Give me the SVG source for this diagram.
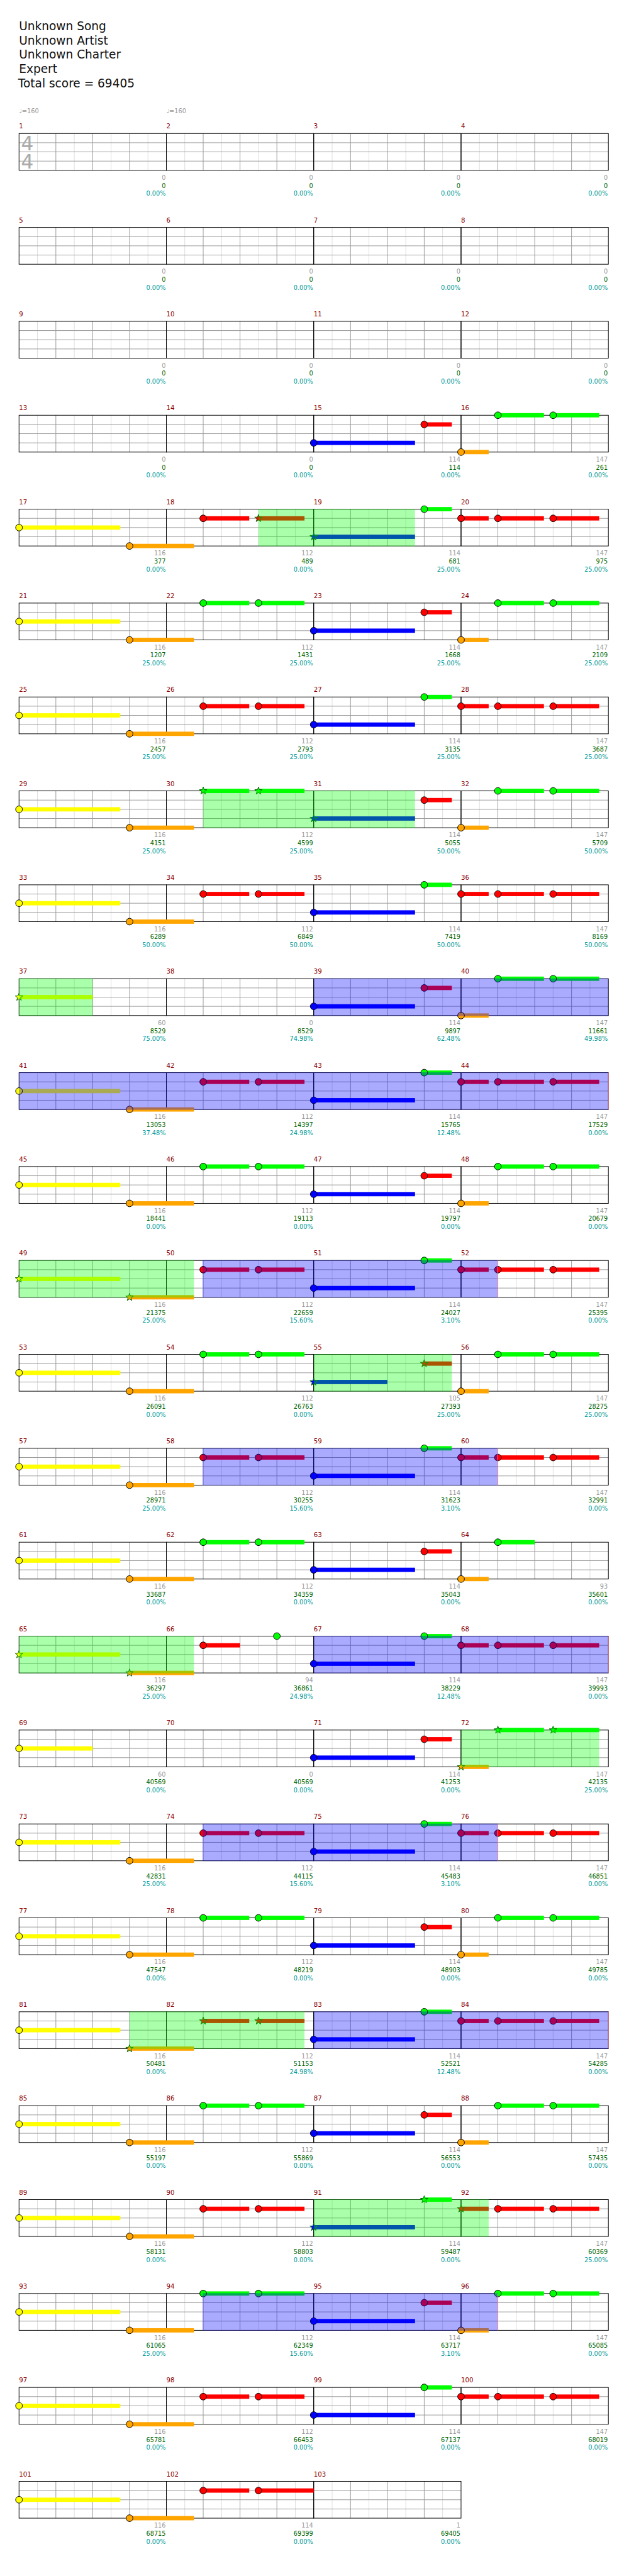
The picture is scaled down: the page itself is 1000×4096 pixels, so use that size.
<svg xmlns="http://www.w3.org/2000/svg" width="1000" height="4096" viewBox="0 0 1000 4096">
<style>
.g{fill:#0f0}.r{fill:#f00}.y{fill:#ff0}.b{fill:#00f}.o{fill:#ffa500}
.sp{fill:#0f0;fill-opacity:.333}.bo{fill:#00f;fill-opacity:.333}
.end{stroke:#f88;stroke-width:1}
.h{font-family:"DejaVu Sans",sans-serif;font-size:19px;fill:#111}
.mn{font-family:"DejaVu Sans",sans-serif;font-size:10.5px;fill:#8b0000}
.s1,.s2,.s3{font-family:"DejaVu Sans",sans-serif;font-size:10px;text-anchor:end}
.s1{fill:#999}.s2{fill:#006400}.s3{fill:#099}
.tp{font-family:"DejaVu Sans",sans-serif;font-size:10px;fill:#999}
.ts{font-family:"DejaVu Sans",sans-serif;font-size:32px;fill:#aaa;text-anchor:middle}
</style>
<defs>
<g id="ms">
<path d="M30 0V60M90 0V60M150 0V60M210 0V60" stroke="#ddd" fill="none"/>
<path d="M60 0V60M120 0V60M180 0V60M0 15H240M0 30H240M0 45H240" stroke="#999" fill="none"/>
<rect width="240" height="60" fill="none" stroke="#000"/>
</g>
<g id="st4"><use href="#ms" x="31"/><use href="#ms" x="271"/><use href="#ms" x="511"/><use href="#ms" x="751"/></g>
<circle id="c" r="5.5" stroke="#000"/>
<path id="s" d="M0-6.5L1.53-2.1L6.18-2.01L2.47 .8L3.82 5.26L0 2.6L-3.82 5.26L-2.47 .8L-6.18-2.01L-1.53-2.1Z" stroke="#060"/>
<g id="bG">
<rect class="y" x="31" y="26.5" width="165" height="7"/>
<rect class="o" x="211" y="56.5" width="105" height="7"/>
<rect class="g" x="331" y="-3.5" width="75" height="7"/>
<rect class="g" x="421" y="-3.5" width="75" height="7"/>
<rect class="b" x="511" y="41.5" width="165" height="7"/>
<rect class="r" x="691" y="11.5" width="45" height="7"/>
<rect class="o" x="751" y="56.5" width="45" height="7"/>
<rect class="g" x="811" y="-3.5" width="75" height="7"/>
<rect class="g" x="901" y="-3.5" width="75" height="7"/>
</g>
<g id="hG">
<use href="#c" class="y" x="31" y="30"/>
<use href="#c" class="o" x="211" y="60"/>
<use href="#c" class="g" x="331" y="0"/>
<use href="#c" class="g" x="421" y="0"/>
<use href="#c" class="b" x="511" y="45"/>
<use href="#c" class="r" x="691" y="15"/>
<use href="#c" class="o" x="751" y="60"/>
<use href="#c" class="g" x="811" y="0"/>
<use href="#c" class="g" x="901" y="0"/>
</g>
<g id="bR">
<rect class="y" x="31" y="26.5" width="165" height="7"/>
<rect class="o" x="211" y="56.5" width="105" height="7"/>
<rect class="r" x="331" y="11.5" width="75" height="7"/>
<rect class="r" x="421" y="11.5" width="75" height="7"/>
<rect class="b" x="511" y="41.5" width="165" height="7"/>
<rect class="g" x="691" y="-3.5" width="45" height="7"/>
<rect class="r" x="751" y="11.5" width="45" height="7"/>
<rect class="r" x="811" y="11.5" width="75" height="7"/>
<rect class="r" x="901" y="11.5" width="75" height="7"/>
</g>
<g id="hR">
<use href="#c" class="y" x="31" y="30"/>
<use href="#c" class="o" x="211" y="60"/>
<use href="#c" class="r" x="331" y="15"/>
<use href="#c" class="r" x="421" y="15"/>
<use href="#c" class="b" x="511" y="45"/>
<use href="#c" class="g" x="691" y="0"/>
<use href="#c" class="r" x="751" y="15"/>
<use href="#c" class="r" x="811" y="15"/>
<use href="#c" class="r" x="901" y="15"/>
</g>
</defs>
<rect width="1000" height="4096" fill="#fff"/>
<g transform="scale(0.976)">
<g id="header">
<text class="h" x="31" y="49.3">Unknown Song</text>
<text class="h" x="31" y="72.5">Unknown Artist</text>
<text class="h" x="31" y="95.7">Unknown Charter</text>
<text class="h" x="31" y="118.9">Expert</text>
<text class="h" x="29.5" y="142">Total score = 69405</text>
</g>

<g id="row1" transform="translate(0 217.5)">
<use href="#st4"/>
<text class="tp" x="31" y="-33">♩=160</text><text class="tp" x="271" y="-33">♩=160</text>
<text class="ts" x="44.5" y="27">4</text><text class="ts" x="44.5" y="57.5">4</text>
<text class="mn" x="31" y="-8">1</text><text class="mn" x="271" y="-8">2</text><text class="mn" x="511" y="-8">3</text><text class="mn" x="751" y="-8">4</text>
<text class="s1" x="270" y="75.5">0</text><text class="s2" x="270" y="88.5">0</text><text class="s3" x="270" y="101.5">0.00%</text>
<text class="s1" x="510" y="75.5">0</text><text class="s2" x="510" y="88.5">0</text><text class="s3" x="510" y="101.5">0.00%</text>
<text class="s1" x="750" y="75.5">0</text><text class="s2" x="750" y="88.5">0</text><text class="s3" x="750" y="101.5">0.00%</text>
<text class="s1" x="990" y="75.5">0</text><text class="s2" x="990" y="88.5">0</text><text class="s3" x="990" y="101.5">0.00%</text>
</g>

<g id="row2" transform="translate(0 370.5)">
<use href="#st4"/>
<text class="mn" x="31" y="-8">5</text><text class="mn" x="271" y="-8">6</text><text class="mn" x="511" y="-8">7</text><text class="mn" x="751" y="-8">8</text>
<text class="s1" x="270" y="75.5">0</text><text class="s2" x="270" y="88.5">0</text><text class="s3" x="270" y="101.5">0.00%</text>
<text class="s1" x="510" y="75.5">0</text><text class="s2" x="510" y="88.5">0</text><text class="s3" x="510" y="101.5">0.00%</text>
<text class="s1" x="750" y="75.5">0</text><text class="s2" x="750" y="88.5">0</text><text class="s3" x="750" y="101.5">0.00%</text>
<text class="s1" x="990" y="75.5">0</text><text class="s2" x="990" y="88.5">0</text><text class="s3" x="990" y="101.5">0.00%</text>
</g>

<g id="row3" transform="translate(0 523.5)">
<use href="#st4"/>
<text class="mn" x="31" y="-8">9</text><text class="mn" x="271" y="-8">10</text><text class="mn" x="511" y="-8">11</text><text class="mn" x="751" y="-8">12</text>
<text class="s1" x="270" y="75.5">0</text><text class="s2" x="270" y="88.5">0</text><text class="s3" x="270" y="101.5">0.00%</text>
<text class="s1" x="510" y="75.5">0</text><text class="s2" x="510" y="88.5">0</text><text class="s3" x="510" y="101.5">0.00%</text>
<text class="s1" x="750" y="75.5">0</text><text class="s2" x="750" y="88.5">0</text><text class="s3" x="750" y="101.5">0.00%</text>
<text class="s1" x="990" y="75.5">0</text><text class="s2" x="990" y="88.5">0</text><text class="s3" x="990" y="101.5">0.00%</text>
</g>

<g id="row4" transform="translate(0 676.5)">
<use href="#st4"/>
<rect class="b" x="511" y="41.5" width="165" height="7"/>
<rect class="r" x="691" y="11.5" width="45" height="7"/>
<rect class="o" x="751" y="56.5" width="45" height="7"/>
<rect class="g" x="811" y="-3.5" width="75" height="7"/>
<rect class="g" x="901" y="-3.5" width="75" height="7"/>
<use href="#c" class="b" x="511" y="45"/>
<use href="#c" class="r" x="691" y="15"/>
<use href="#c" class="o" x="751" y="60"/>
<use href="#c" class="g" x="811" y="0"/>
<use href="#c" class="g" x="901" y="0"/>
<text class="mn" x="31" y="-8">13</text><text class="mn" x="271" y="-8">14</text><text class="mn" x="511" y="-8">15</text><text class="mn" x="751" y="-8">16</text>
<text class="s1" x="270" y="75.5">0</text><text class="s2" x="270" y="88.5">0</text><text class="s3" x="270" y="101.5">0.00%</text>
<text class="s1" x="510" y="75.5">0</text><text class="s2" x="510" y="88.5">0</text><text class="s3" x="510" y="101.5">0.00%</text>
<text class="s1" x="750" y="75.5">114</text><text class="s2" x="750" y="88.5">114</text><text class="s3" x="750" y="101.5">0.00%</text>
<text class="s1" x="990" y="75.5">147</text><text class="s2" x="990" y="88.5">261</text><text class="s3" x="990" y="101.5">0.00%</text>
</g>

<g id="row5" transform="translate(0 829.5)">
<use href="#st4"/>
<use href="#bR"/>
<use href="#c" class="y" x="31" y="30"/>
<use href="#c" class="o" x="211" y="60"/>
<use href="#c" class="r" x="331" y="15"/>
<use href="#s" class="r" x="421" y="15"/>
<use href="#s" class="b" x="511" y="45"/>
<use href="#c" class="g" x="691" y="0"/>
<use href="#c" class="r" x="751" y="15"/>
<use href="#c" class="r" x="811" y="15"/>
<use href="#c" class="r" x="901" y="15"/>
<rect class="sp" x="421" y="-0.5" width="255" height="61"/>
<text class="mn" x="31" y="-8">17</text><text class="mn" x="271" y="-8">18</text><text class="mn" x="511" y="-8">19</text><text class="mn" x="751" y="-8">20</text>
<text class="s1" x="270" y="75.5">116</text><text class="s2" x="270" y="88.5">377</text><text class="s3" x="270" y="101.5">0.00%</text>
<text class="s1" x="510" y="75.5">112</text><text class="s2" x="510" y="88.5">489</text><text class="s3" x="510" y="101.5">0.00%</text>
<text class="s1" x="750" y="75.5">114</text><text class="s2" x="750" y="88.5">681</text><text class="s3" x="750" y="101.5">25.00%</text>
<text class="s1" x="990" y="75.5">147</text><text class="s2" x="990" y="88.5">975</text><text class="s3" x="990" y="101.5">25.00%</text>
</g>

<g id="row6" transform="translate(0 982.5)">
<use href="#st4"/><use href="#bG"/><use href="#hG"/>
<text class="mn" x="31" y="-8">21</text><text class="mn" x="271" y="-8">22</text><text class="mn" x="511" y="-8">23</text><text class="mn" x="751" y="-8">24</text>
<text class="s1" x="270" y="75.5">116</text><text class="s2" x="270" y="88.5">1207</text><text class="s3" x="270" y="101.5">25.00%</text>
<text class="s1" x="510" y="75.5">112</text><text class="s2" x="510" y="88.5">1431</text><text class="s3" x="510" y="101.5">25.00%</text>
<text class="s1" x="750" y="75.5">114</text><text class="s2" x="750" y="88.5">1668</text><text class="s3" x="750" y="101.5">25.00%</text>
<text class="s1" x="990" y="75.5">147</text><text class="s2" x="990" y="88.5">2109</text><text class="s3" x="990" y="101.5">25.00%</text>
</g>

<g id="row7" transform="translate(0 1135.5)">
<use href="#st4"/><use href="#bR"/><use href="#hR"/>
<text class="mn" x="31" y="-8">25</text><text class="mn" x="271" y="-8">26</text><text class="mn" x="511" y="-8">27</text><text class="mn" x="751" y="-8">28</text>
<text class="s1" x="270" y="75.5">116</text><text class="s2" x="270" y="88.5">2457</text><text class="s3" x="270" y="101.5">25.00%</text>
<text class="s1" x="510" y="75.5">112</text><text class="s2" x="510" y="88.5">2793</text><text class="s3" x="510" y="101.5">25.00%</text>
<text class="s1" x="750" y="75.5">114</text><text class="s2" x="750" y="88.5">3135</text><text class="s3" x="750" y="101.5">25.00%</text>
<text class="s1" x="990" y="75.5">147</text><text class="s2" x="990" y="88.5">3687</text><text class="s3" x="990" y="101.5">25.00%</text>
</g>

<g id="row8" transform="translate(0 1288.5)">
<use href="#st4"/><use href="#bG"/>
<use href="#c" class="y" x="31" y="30"/>
<use href="#c" class="o" x="211" y="60"/>
<use href="#s" class="g" x="331" y="0"/>
<use href="#s" class="g" x="421" y="0"/>
<use href="#s" class="b" x="511" y="45"/>
<use href="#c" class="r" x="691" y="15"/>
<use href="#c" class="o" x="751" y="60"/>
<use href="#c" class="g" x="811" y="0"/>
<use href="#c" class="g" x="901" y="0"/>
<rect class="sp" x="331" y="-0.5" width="345" height="61"/>
<text class="mn" x="31" y="-8">29</text><text class="mn" x="271" y="-8">30</text><text class="mn" x="511" y="-8">31</text><text class="mn" x="751" y="-8">32</text>
<text class="s1" x="270" y="75.5">116</text><text class="s2" x="270" y="88.5">4151</text><text class="s3" x="270" y="101.5">25.00%</text>
<text class="s1" x="510" y="75.5">112</text><text class="s2" x="510" y="88.5">4599</text><text class="s3" x="510" y="101.5">25.00%</text>
<text class="s1" x="750" y="75.5">114</text><text class="s2" x="750" y="88.5">5055</text><text class="s3" x="750" y="101.5">50.00%</text>
<text class="s1" x="990" y="75.5">147</text><text class="s2" x="990" y="88.5">5709</text><text class="s3" x="990" y="101.5">50.00%</text>
</g>

<g id="row9" transform="translate(0 1441.5)">
<use href="#st4"/><use href="#bR"/><use href="#hR"/>
<text class="mn" x="31" y="-8">33</text><text class="mn" x="271" y="-8">34</text><text class="mn" x="511" y="-8">35</text><text class="mn" x="751" y="-8">36</text>
<text class="s1" x="270" y="75.5">116</text><text class="s2" x="270" y="88.5">6289</text><text class="s3" x="270" y="101.5">50.00%</text>
<text class="s1" x="510" y="75.5">112</text><text class="s2" x="510" y="88.5">6849</text><text class="s3" x="510" y="101.5">50.00%</text>
<text class="s1" x="750" y="75.5">114</text><text class="s2" x="750" y="88.5">7419</text><text class="s3" x="750" y="101.5">50.00%</text>
<text class="s1" x="990" y="75.5">147</text><text class="s2" x="990" y="88.5">8169</text><text class="s3" x="990" y="101.5">50.00%</text>
</g>

<g id="row10" transform="translate(0 1594.5)">
<use href="#st4"/>
<rect class="y" x="31" y="26.5" width="120" height="7"/>
<rect class="b" x="511" y="41.5" width="165" height="7"/>
<rect class="r" x="691" y="11.5" width="45" height="7"/>
<rect class="o" x="751" y="56.5" width="45" height="7"/>
<rect class="g" x="811" y="-3.5" width="75" height="7"/>
<rect class="g" x="901" y="-3.5" width="75" height="7"/>
<use href="#s" class="y" x="31" y="30"/>
<use href="#c" class="b" x="511" y="45"/>
<use href="#c" class="r" x="691" y="15"/>
<use href="#c" class="o" x="751" y="60"/>
<use href="#c" class="g" x="811" y="0"/>
<use href="#c" class="g" x="901" y="0"/>
<rect class="sp" x="31" y="-0.5" width="120" height="61"/>
<rect class="bo" x="511" y="-0.5" width="480" height="61"/>
<text class="mn" x="31" y="-8">37</text><text class="mn" x="271" y="-8">38</text><text class="mn" x="511" y="-8">39</text><text class="mn" x="751" y="-8">40</text>
<text class="s1" x="270" y="75.5">60</text><text class="s2" x="270" y="88.5">8529</text><text class="s3" x="270" y="101.5">75.00%</text>
<text class="s1" x="510" y="75.5">0</text><text class="s2" x="510" y="88.5">8529</text><text class="s3" x="510" y="101.5">74.98%</text>
<text class="s1" x="750" y="75.5">114</text><text class="s2" x="750" y="88.5">9897</text><text class="s3" x="750" y="101.5">62.48%</text>
<text class="s1" x="990" y="75.5">147</text><text class="s2" x="990" y="88.5">11661</text><text class="s3" x="990" y="101.5">49.98%</text>
</g>

<g id="row11" transform="translate(0 1747.5)">
<use href="#st4"/><use href="#bR"/><use href="#hR"/>
<rect class="bo" x="31" y="-0.5" width="960" height="61"/>
<path class="end" d="M991 0V60"/>
<text class="mn" x="31" y="-8">41</text><text class="mn" x="271" y="-8">42</text><text class="mn" x="511" y="-8">43</text><text class="mn" x="751" y="-8">44</text>
<text class="s1" x="270" y="75.5">116</text><text class="s2" x="270" y="88.5">13053</text><text class="s3" x="270" y="101.5">37.48%</text>
<text class="s1" x="510" y="75.5">112</text><text class="s2" x="510" y="88.5">14397</text><text class="s3" x="510" y="101.5">24.98%</text>
<text class="s1" x="750" y="75.5">114</text><text class="s2" x="750" y="88.5">15765</text><text class="s3" x="750" y="101.5">12.48%</text>
<text class="s1" x="990" y="75.5">147</text><text class="s2" x="990" y="88.5">17529</text><text class="s3" x="990" y="101.5">0.00%</text>
</g>

<g id="row12" transform="translate(0 1900.5)">
<use href="#st4"/><use href="#bG"/><use href="#hG"/>
<text class="mn" x="31" y="-8">45</text><text class="mn" x="271" y="-8">46</text><text class="mn" x="511" y="-8">47</text><text class="mn" x="751" y="-8">48</text>
<text class="s1" x="270" y="75.5">116</text><text class="s2" x="270" y="88.5">18441</text><text class="s3" x="270" y="101.5">0.00%</text>
<text class="s1" x="510" y="75.5">112</text><text class="s2" x="510" y="88.5">19113</text><text class="s3" x="510" y="101.5">0.00%</text>
<text class="s1" x="750" y="75.5">114</text><text class="s2" x="750" y="88.5">19797</text><text class="s3" x="750" y="101.5">0.00%</text>
<text class="s1" x="990" y="75.5">147</text><text class="s2" x="990" y="88.5">20679</text><text class="s3" x="990" y="101.5">0.00%</text>
</g>

<g id="row13" transform="translate(0 2053.5)">
<use href="#st4"/><use href="#bR"/>
<use href="#s" class="y" x="31" y="30"/>
<use href="#s" class="o" x="211" y="60"/>
<use href="#c" class="r" x="331" y="15"/>
<use href="#c" class="r" x="421" y="15"/>
<use href="#c" class="b" x="511" y="45"/>
<use href="#c" class="g" x="691" y="0"/>
<use href="#c" class="r" x="751" y="15"/>
<use href="#c" class="r" x="811" y="15"/>
<use href="#c" class="r" x="901" y="15"/>
<rect class="sp" x="31" y="-0.5" width="285" height="61"/>
<rect class="bo" x="330" y="-0.5" width="481" height="61"/>
<path class="end" d="M811 0V60"/>
<text class="mn" x="31" y="-8">49</text><text class="mn" x="271" y="-8">50</text><text class="mn" x="511" y="-8">51</text><text class="mn" x="751" y="-8">52</text>
<text class="s1" x="270" y="75.5">116</text><text class="s2" x="270" y="88.5">21375</text><text class="s3" x="270" y="101.5">25.00%</text>
<text class="s1" x="510" y="75.5">112</text><text class="s2" x="510" y="88.5">22659</text><text class="s3" x="510" y="101.5">15.60%</text>
<text class="s1" x="750" y="75.5">114</text><text class="s2" x="750" y="88.5">24027</text><text class="s3" x="750" y="101.5">3.10%</text>
<text class="s1" x="990" y="75.5">147</text><text class="s2" x="990" y="88.5">25395</text><text class="s3" x="990" y="101.5">0.00%</text>
</g>

<g id="row14" transform="translate(0 2206.5)">
<use href="#st4"/>
<rect class="y" x="31" y="26.5" width="165" height="7"/>
<rect class="o" x="211" y="56.5" width="105" height="7"/>
<rect class="g" x="331" y="-3.5" width="75" height="7"/>
<rect class="g" x="421" y="-3.5" width="75" height="7"/>
<rect class="b" x="511" y="41.5" width="120" height="7"/>
<rect class="r" x="691" y="11.5" width="45" height="7"/>
<rect class="o" x="751" y="56.5" width="45" height="7"/>
<rect class="g" x="811" y="-3.5" width="75" height="7"/>
<rect class="g" x="901" y="-3.5" width="75" height="7"/>
<use href="#c" class="y" x="31" y="30"/>
<use href="#c" class="o" x="211" y="60"/>
<use href="#c" class="g" x="331" y="0"/>
<use href="#c" class="g" x="421" y="0"/>
<use href="#s" class="b" x="511" y="45"/>
<use href="#s" class="r" x="691" y="15"/>
<use href="#c" class="o" x="751" y="60"/>
<use href="#c" class="g" x="811" y="0"/>
<use href="#c" class="g" x="901" y="0"/>
<rect class="sp" x="511" y="-0.5" width="225" height="61"/>
<text class="mn" x="31" y="-8">53</text><text class="mn" x="271" y="-8">54</text><text class="mn" x="511" y="-8">55</text><text class="mn" x="751" y="-8">56</text>
<text class="s1" x="270" y="75.5">116</text><text class="s2" x="270" y="88.5">26091</text><text class="s3" x="270" y="101.5">0.00%</text>
<text class="s1" x="510" y="75.5">112</text><text class="s2" x="510" y="88.5">26763</text><text class="s3" x="510" y="101.5">0.00%</text>
<text class="s1" x="750" y="75.5">105</text><text class="s2" x="750" y="88.5">27393</text><text class="s3" x="750" y="101.5">25.00%</text>
<text class="s1" x="990" y="75.5">147</text><text class="s2" x="990" y="88.5">28275</text><text class="s3" x="990" y="101.5">25.00%</text>
</g>

<g id="row15" transform="translate(0 2359.5)">
<use href="#st4"/><use href="#bR"/><use href="#hR"/>
<rect class="bo" x="330" y="-0.5" width="481" height="61"/>
<path class="end" d="M811 0V60"/>
<text class="mn" x="31" y="-8">57</text><text class="mn" x="271" y="-8">58</text><text class="mn" x="511" y="-8">59</text><text class="mn" x="751" y="-8">60</text>
<text class="s1" x="270" y="75.5">116</text><text class="s2" x="270" y="88.5">28971</text><text class="s3" x="270" y="101.5">25.00%</text>
<text class="s1" x="510" y="75.5">112</text><text class="s2" x="510" y="88.5">30255</text><text class="s3" x="510" y="101.5">15.60%</text>
<text class="s1" x="750" y="75.5">114</text><text class="s2" x="750" y="88.5">31623</text><text class="s3" x="750" y="101.5">3.10%</text>
<text class="s1" x="990" y="75.5">147</text><text class="s2" x="990" y="88.5">32991</text><text class="s3" x="990" y="101.5">0.00%</text>
</g>

<g id="row16" transform="translate(0 2512.5)">
<use href="#st4"/>
<rect class="y" x="31" y="26.5" width="165" height="7"/>
<rect class="o" x="211" y="56.5" width="105" height="7"/>
<rect class="g" x="331" y="-3.5" width="75" height="7"/>
<rect class="g" x="421" y="-3.5" width="75" height="7"/>
<rect class="b" x="511" y="41.5" width="165" height="7"/>
<rect class="r" x="691" y="11.5" width="45" height="7"/>
<rect class="o" x="751" y="56.5" width="45" height="7"/>
<rect class="g" x="811" y="-3.5" width="60" height="7"/>
<use href="#c" class="y" x="31" y="30"/>
<use href="#c" class="o" x="211" y="60"/>
<use href="#c" class="g" x="331" y="0"/>
<use href="#c" class="g" x="421" y="0"/>
<use href="#c" class="b" x="511" y="45"/>
<use href="#c" class="r" x="691" y="15"/>
<use href="#c" class="o" x="751" y="60"/>
<use href="#c" class="g" x="811" y="0"/>
<text class="mn" x="31" y="-8">61</text><text class="mn" x="271" y="-8">62</text><text class="mn" x="511" y="-8">63</text><text class="mn" x="751" y="-8">64</text>
<text class="s1" x="270" y="75.5">116</text><text class="s2" x="270" y="88.5">33687</text><text class="s3" x="270" y="101.5">0.00%</text>
<text class="s1" x="510" y="75.5">112</text><text class="s2" x="510" y="88.5">34359</text><text class="s3" x="510" y="101.5">0.00%</text>
<text class="s1" x="750" y="75.5">114</text><text class="s2" x="750" y="88.5">35043</text><text class="s3" x="750" y="101.5">0.00%</text>
<text class="s1" x="990" y="75.5">93</text><text class="s2" x="990" y="88.5">35601</text><text class="s3" x="990" y="101.5">0.00%</text>
</g>

<g id="row17" transform="translate(0 2665.5)">
<use href="#st4"/>
<rect class="y" x="31" y="26.5" width="165" height="7"/>
<rect class="o" x="211" y="56.5" width="105" height="7"/>
<rect class="r" x="331" y="11.5" width="60" height="7"/>
<rect class="b" x="511" y="41.5" width="165" height="7"/>
<rect class="g" x="691" y="-3.5" width="45" height="7"/>
<rect class="r" x="751" y="11.5" width="45" height="7"/>
<rect class="r" x="811" y="11.5" width="75" height="7"/>
<rect class="r" x="901" y="11.5" width="75" height="7"/>
<use href="#s" class="y" x="31" y="30"/>
<use href="#s" class="o" x="211" y="60"/>
<use href="#c" class="r" x="331" y="15"/>
<use href="#c" class="g" x="451" y="0"/>
<use href="#c" class="b" x="511" y="45"/>
<use href="#c" class="g" x="691" y="0"/>
<use href="#c" class="r" x="751" y="15"/>
<use href="#c" class="r" x="811" y="15"/>
<use href="#c" class="r" x="901" y="15"/>
<rect class="sp" x="31" y="-0.5" width="285" height="61"/>
<rect class="bo" x="511" y="-0.5" width="480" height="61"/>
<path class="end" d="M991 0V60"/>
<text class="mn" x="31" y="-8">65</text><text class="mn" x="271" y="-8">66</text><text class="mn" x="511" y="-8">67</text><text class="mn" x="751" y="-8">68</text>
<text class="s1" x="270" y="75.5">116</text><text class="s2" x="270" y="88.5">36297</text><text class="s3" x="270" y="101.5">25.00%</text>
<text class="s1" x="510" y="75.5">94</text><text class="s2" x="510" y="88.5">36861</text><text class="s3" x="510" y="101.5">24.98%</text>
<text class="s1" x="750" y="75.5">114</text><text class="s2" x="750" y="88.5">38229</text><text class="s3" x="750" y="101.5">12.48%</text>
<text class="s1" x="990" y="75.5">147</text><text class="s2" x="990" y="88.5">39993</text><text class="s3" x="990" y="101.5">0.00%</text>
</g>

<g id="row18" transform="translate(0 2818.5)">
<use href="#st4"/>
<rect class="y" x="31" y="26.5" width="120" height="7"/>
<rect class="b" x="511" y="41.5" width="165" height="7"/>
<rect class="r" x="691" y="11.5" width="45" height="7"/>
<rect class="o" x="751" y="56.5" width="45" height="7"/>
<rect class="g" x="811" y="-3.5" width="75" height="7"/>
<rect class="g" x="901" y="-3.5" width="75" height="7"/>
<use href="#c" class="y" x="31" y="30"/>
<use href="#c" class="b" x="511" y="45"/>
<use href="#c" class="r" x="691" y="15"/>
<use href="#s" class="o" x="751" y="60"/>
<use href="#s" class="g" x="811" y="0"/>
<use href="#s" class="g" x="901" y="0"/>
<rect class="sp" x="751" y="-0.5" width="225" height="61"/>
<text class="mn" x="31" y="-8">69</text><text class="mn" x="271" y="-8">70</text><text class="mn" x="511" y="-8">71</text><text class="mn" x="751" y="-8">72</text>
<text class="s1" x="270" y="75.5">60</text><text class="s2" x="270" y="88.5">40569</text><text class="s3" x="270" y="101.5">0.00%</text>
<text class="s1" x="510" y="75.5">0</text><text class="s2" x="510" y="88.5">40569</text><text class="s3" x="510" y="101.5">0.00%</text>
<text class="s1" x="750" y="75.5">114</text><text class="s2" x="750" y="88.5">41253</text><text class="s3" x="750" y="101.5">0.00%</text>
<text class="s1" x="990" y="75.5">147</text><text class="s2" x="990" y="88.5">42135</text><text class="s3" x="990" y="101.5">25.00%</text>
</g>

<g id="row19" transform="translate(0 2971.5)">
<use href="#st4"/><use href="#bR"/><use href="#hR"/>
<rect class="bo" x="330" y="-0.5" width="481" height="61"/>
<path class="end" d="M811 0V60"/>
<text class="mn" x="31" y="-8">73</text><text class="mn" x="271" y="-8">74</text><text class="mn" x="511" y="-8">75</text><text class="mn" x="751" y="-8">76</text>
<text class="s1" x="270" y="75.5">116</text><text class="s2" x="270" y="88.5">42831</text><text class="s3" x="270" y="101.5">25.00%</text>
<text class="s1" x="510" y="75.5">112</text><text class="s2" x="510" y="88.5">44115</text><text class="s3" x="510" y="101.5">15.60%</text>
<text class="s1" x="750" y="75.5">114</text><text class="s2" x="750" y="88.5">45483</text><text class="s3" x="750" y="101.5">3.10%</text>
<text class="s1" x="990" y="75.5">147</text><text class="s2" x="990" y="88.5">46851</text><text class="s3" x="990" y="101.5">0.00%</text>
</g>

<g id="row20" transform="translate(0 3124.5)">
<use href="#st4"/><use href="#bG"/><use href="#hG"/>
<text class="mn" x="31" y="-8">77</text><text class="mn" x="271" y="-8">78</text><text class="mn" x="511" y="-8">79</text><text class="mn" x="751" y="-8">80</text>
<text class="s1" x="270" y="75.5">116</text><text class="s2" x="270" y="88.5">47547</text><text class="s3" x="270" y="101.5">0.00%</text>
<text class="s1" x="510" y="75.5">112</text><text class="s2" x="510" y="88.5">48219</text><text class="s3" x="510" y="101.5">0.00%</text>
<text class="s1" x="750" y="75.5">114</text><text class="s2" x="750" y="88.5">48903</text><text class="s3" x="750" y="101.5">0.00%</text>
<text class="s1" x="990" y="75.5">147</text><text class="s2" x="990" y="88.5">49785</text><text class="s3" x="990" y="101.5">0.00%</text>
</g>

<g id="row21" transform="translate(0 3277.5)">
<use href="#st4"/><use href="#bR"/>
<use href="#c" class="y" x="31" y="30"/>
<use href="#s" class="o" x="211" y="60"/>
<use href="#s" class="r" x="331" y="15"/>
<use href="#s" class="r" x="421" y="15"/>
<use href="#c" class="b" x="511" y="45"/>
<use href="#c" class="g" x="691" y="0"/>
<use href="#c" class="r" x="751" y="15"/>
<use href="#c" class="r" x="811" y="15"/>
<use href="#c" class="r" x="901" y="15"/>
<rect class="sp" x="211" y="-0.5" width="285" height="61"/>
<rect class="bo" x="511" y="-0.5" width="480" height="61"/>
<path class="end" d="M991 0V60"/>
<text class="mn" x="31" y="-8">81</text><text class="mn" x="271" y="-8">82</text><text class="mn" x="511" y="-8">83</text><text class="mn" x="751" y="-8">84</text>
<text class="s1" x="270" y="75.5">116</text><text class="s2" x="270" y="88.5">50481</text><text class="s3" x="270" y="101.5">0.00%</text>
<text class="s1" x="510" y="75.5">112</text><text class="s2" x="510" y="88.5">51153</text><text class="s3" x="510" y="101.5">24.98%</text>
<text class="s1" x="750" y="75.5">114</text><text class="s2" x="750" y="88.5">52521</text><text class="s3" x="750" y="101.5">12.48%</text>
<text class="s1" x="990" y="75.5">147</text><text class="s2" x="990" y="88.5">54285</text><text class="s3" x="990" y="101.5">0.00%</text>
</g>

<g id="row22" transform="translate(0 3430.5)">
<use href="#st4"/><use href="#bG"/><use href="#hG"/>
<text class="mn" x="31" y="-8">85</text><text class="mn" x="271" y="-8">86</text><text class="mn" x="511" y="-8">87</text><text class="mn" x="751" y="-8">88</text>
<text class="s1" x="270" y="75.5">116</text><text class="s2" x="270" y="88.5">55197</text><text class="s3" x="270" y="101.5">0.00%</text>
<text class="s1" x="510" y="75.5">112</text><text class="s2" x="510" y="88.5">55869</text><text class="s3" x="510" y="101.5">0.00%</text>
<text class="s1" x="750" y="75.5">114</text><text class="s2" x="750" y="88.5">56553</text><text class="s3" x="750" y="101.5">0.00%</text>
<text class="s1" x="990" y="75.5">147</text><text class="s2" x="990" y="88.5">57435</text><text class="s3" x="990" y="101.5">0.00%</text>
</g>

<g id="row23" transform="translate(0 3583.5)">
<use href="#st4"/><use href="#bR"/>
<use href="#c" class="y" x="31" y="30"/>
<use href="#c" class="o" x="211" y="60"/>
<use href="#c" class="r" x="331" y="15"/>
<use href="#c" class="r" x="421" y="15"/>
<use href="#s" class="b" x="511" y="45"/>
<use href="#s" class="g" x="691" y="0"/>
<use href="#s" class="r" x="751" y="15"/>
<use href="#c" class="r" x="811" y="15"/>
<use href="#c" class="r" x="901" y="15"/>
<rect class="sp" x="511" y="-0.5" width="285" height="61"/>
<text class="mn" x="31" y="-8">89</text><text class="mn" x="271" y="-8">90</text><text class="mn" x="511" y="-8">91</text><text class="mn" x="751" y="-8">92</text>
<text class="s1" x="270" y="75.5">116</text><text class="s2" x="270" y="88.5">58131</text><text class="s3" x="270" y="101.5">0.00%</text>
<text class="s1" x="510" y="75.5">112</text><text class="s2" x="510" y="88.5">58803</text><text class="s3" x="510" y="101.5">0.00%</text>
<text class="s1" x="750" y="75.5">114</text><text class="s2" x="750" y="88.5">59487</text><text class="s3" x="750" y="101.5">0.00%</text>
<text class="s1" x="990" y="75.5">147</text><text class="s2" x="990" y="88.5">60369</text><text class="s3" x="990" y="101.5">25.00%</text>
</g>

<g id="row24" transform="translate(0 3736.5)">
<use href="#st4"/><use href="#bG"/><use href="#hG"/>
<rect class="bo" x="330" y="-0.5" width="481" height="61"/>
<path class="end" d="M811 0V60"/>
<text class="mn" x="31" y="-8">93</text><text class="mn" x="271" y="-8">94</text><text class="mn" x="511" y="-8">95</text><text class="mn" x="751" y="-8">96</text>
<text class="s1" x="270" y="75.5">116</text><text class="s2" x="270" y="88.5">61065</text><text class="s3" x="270" y="101.5">25.00%</text>
<text class="s1" x="510" y="75.5">112</text><text class="s2" x="510" y="88.5">62349</text><text class="s3" x="510" y="101.5">15.60%</text>
<text class="s1" x="750" y="75.5">114</text><text class="s2" x="750" y="88.5">63717</text><text class="s3" x="750" y="101.5">3.10%</text>
<text class="s1" x="990" y="75.5">147</text><text class="s2" x="990" y="88.5">65085</text><text class="s3" x="990" y="101.5">0.00%</text>
</g>

<g id="row25" transform="translate(0 3889.5)">
<use href="#st4"/><use href="#bR"/><use href="#hR"/>
<text class="mn" x="31" y="-8">97</text><text class="mn" x="271" y="-8">98</text><text class="mn" x="511" y="-8">99</text><text class="mn" x="751" y="-8">100</text>
<text class="s1" x="270" y="75.5">116</text><text class="s2" x="270" y="88.5">65781</text><text class="s3" x="270" y="101.5">0.00%</text>
<text class="s1" x="510" y="75.5">112</text><text class="s2" x="510" y="88.5">66453</text><text class="s3" x="510" y="101.5">0.00%</text>
<text class="s1" x="750" y="75.5">114</text><text class="s2" x="750" y="88.5">67137</text><text class="s3" x="750" y="101.5">0.00%</text>
<text class="s1" x="990" y="75.5">147</text><text class="s2" x="990" y="88.5">68019</text><text class="s3" x="990" y="101.5">0.00%</text>
</g>

<g id="row26" transform="translate(0 4042.5)">
<use href="#ms" x="31"/><use href="#ms" x="271"/><use href="#ms" x="511"/>
<rect class="y" x="31" y="26.5" width="165" height="7"/>
<rect class="o" x="211" y="56.5" width="105" height="7"/>
<rect class="r" x="331" y="11.5" width="75" height="7"/>
<rect class="r" x="421" y="11.5" width="90" height="7"/>
<use href="#c" class="y" x="31" y="30"/>
<use href="#c" class="o" x="211" y="60"/>
<use href="#c" class="r" x="331" y="15"/>
<use href="#c" class="r" x="421" y="15"/>
<text class="mn" x="31" y="-8">101</text><text class="mn" x="271" y="-8">102</text><text class="mn" x="511" y="-8">103</text>
<text class="s1" x="270" y="75.5">116</text><text class="s2" x="270" y="88.5">68715</text><text class="s3" x="270" y="101.5">0.00%</text>
<text class="s1" x="510" y="75.5">114</text><text class="s2" x="510" y="88.5">69399</text><text class="s3" x="510" y="101.5">0.00%</text>
<text class="s1" x="750" y="75.5">1</text><text class="s2" x="750" y="88.5">69405</text><text class="s3" x="750" y="101.5">0.00%</text>
</g>
</g>
</svg>
